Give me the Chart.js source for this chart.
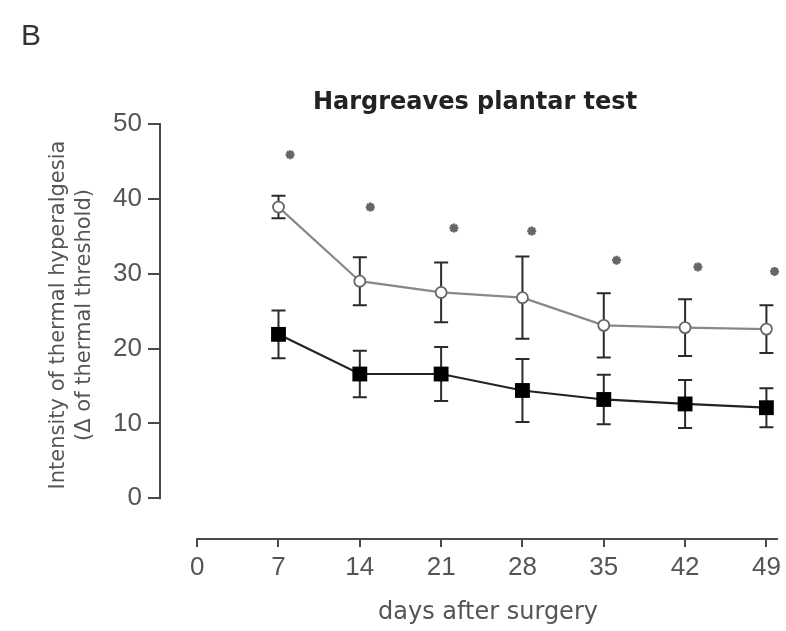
<!DOCTYPE html>
<html>
<head>
<meta charset="utf-8">
<script src="https://cdn.jsdelivr.net/npm/chart.js@4.4.1/dist/chart.umd.min.js"></script>
<style>
  html, body { margin: 0; padding: 0; background: #fff; }
  #wrap { width: 786px; height: 631px; }
</style>
</head>
<body>
<div id="wrap"><canvas id="chart" width="786" height="631"></canvas></div>
<script>
// values (mean ± SEM)
const days       = [7, 14, 21, 28, 35, 42, 49]
const xTicks     = [0, 7, 14, 21, 28, 35, 42, 49]
const yTicks     = [0, 10, 20, 30, 40, 50]
const openMean   = [38.9, 29.0, 27.5, 26.8, 23.1, 22.8, 22.6]
const openSem    = [1.5, 3.2, 4.0, 5.5, 4.3, 3.8, 3.2]
const filledMean = [21.9, 16.6, 16.6, 14.4, 13.2, 12.6, 12.1]
const filledSem  = [3.2, 3.1, 3.6, 4.2, 3.3, 3.2, 2.6]
const starDays   = [8.0, 14.9, 22.1, 28.8, 36.1, 43.1, 49.7]
const starLevel  = [45.9, 38.9, 36.1, 35.7, 31.8, 30.9, 30.3]

const panelLabel = 'B'
const chartTitle = 'Hargreaves plantar test'
const yTitle     = ['Intensity of thermal hyperalgesia', '(\u0394 of thermal threshold)']
const xTitle     = 'days after surgery'

const axisColor = '#4a4a4a'
const textColor = '#555'
const tickFont  = { family: '"Liberation Sans", Arial, sans-serif', size: 26 }

const toPoints = (xs, ys) => xs.map((x, i) => ({ x, y: ys[i] }))

// SEM whiskers, drawn under the markers
const errorBars = {
  id: 'errorBars',
  beforeDatasetsDraw(chart) {
    const { ctx, scales: { x, y } } = chart
    ctx.save()
    ctx.strokeStyle = '#2a2a2a'
    ctx.lineWidth = 2
    chart.data.datasets.forEach(ds => {
      if (!ds.sem) return
      ds.data.forEach((p, i) => {
        const px  = x.getPixelForValue(p.x)
        const top = y.getPixelForValue(p.y + ds.sem[i])
        const bot = y.getPixelForValue(p.y - ds.sem[i])
        ctx.beginPath()
        ctx.moveTo(px, top); ctx.lineTo(px, bot)
        ctx.moveTo(px - 7, top); ctx.lineTo(px + 7, top)
        ctx.moveTo(px - 7, bot); ctx.lineTo(px + 7, bot)
        ctx.stroke()
      })
    })
    ctx.restore()
  }
}

// detached axis lines + panel letter and titles
const decorations = {
  id: 'decorations',
  beforeDatasetsDraw(chart) {
    const { ctx, chartArea, scales: { x, y } } = chart
    ctx.save()
    ctx.strokeStyle = axisColor
    ctx.lineWidth = 2
    ctx.beginPath()
    ctx.moveTo(chartArea.left, y.getPixelForValue(yTicks[0]) + 1)
    ctx.lineTo(chartArea.left, y.getPixelForValue(yTicks[yTicks.length - 1]) - 1)
    ctx.moveTo(x.getPixelForValue(xTicks[0]) - 1, chartArea.bottom)
    ctx.lineTo(x.getPixelForValue(50), chartArea.bottom)
    ctx.stroke()

    ctx.fillStyle = '#333'
    ctx.textAlign = 'left'
    ctx.textBaseline = 'alphabetic'
    ctx.font = '30px "Liberation Sans", Arial, sans-serif'
    ctx.fillText(panelLabel, 21, 45)

    ctx.fillStyle = '#222'
    ctx.textAlign = 'center'
    ctx.font = 'bold 24px "DejaVu Sans", sans-serif'
    ctx.fillText(chartTitle, 475, 109)

    ctx.fillStyle = textColor
    ctx.font = '24px "DejaVu Sans", sans-serif'
    ctx.fillText(xTitle, 488, 619)

    ctx.translate(0, 315)
    ctx.rotate(-Math.PI / 2)
    ctx.textBaseline = 'middle'
    ctx.font = '21px "DejaVu Sans", sans-serif'
    ctx.fillText(yTitle[0], 0, 58.5)
    ctx.fillText(yTitle[1], 0, 85)
    ctx.restore()
  }
}

new Chart(document.getElementById('chart'), {
  type: 'line',
  data: {
    datasets: [
      {
        label: 'filled',
        data: toPoints(days, filledMean),
        sem: filledSem,
        borderColor: '#222',
        borderWidth: 2.2,
        pointStyle: 'rect',
        pointRadius: 10.5,
        pointBackgroundColor: '#000',
        pointBorderColor: '#000',
        pointBorderWidth: 0,
        clip: false
      },
      {
        label: 'open',
        data: toPoints(days, openMean),
        sem: openSem,
        borderColor: '#888',
        borderWidth: 2.2,
        pointStyle: 'circle',
        pointRadius: 5.5,
        pointBackgroundColor: '#fff',
        pointBorderColor: '#666',
        pointBorderWidth: 1.8,
        clip: false
      },
      {
        label: 'p<0.05',
        data: toPoints(starDays, starLevel),
        showLine: false,
        pointStyle: 'star',
        pointRadius: 4.5,
        pointBorderColor: '#666',
        pointBorderWidth: 2.6,
        clip: false
      }
    ]
  },
  options: {
    responsive: false,
    animation: false,
    events: [],
    layout: { padding: { top: 124, right: 4, left: 0, bottom: 0 } },
    plugins: { legend: { display: false }, tooltip: { enabled: false } },
    scales: {
      x: {
        type: 'linear',
        min: -3.2,
        max: 49.67,
        afterBuildTicks: s => { s.ticks = xTicks.map(v => ({ value: v })) },
        afterFit: s => { s.height = 92 },
        border: { display: false },
        grid: { drawOnChartArea: false, drawTicks: true, tickLength: 8, color: axisColor, lineWidth: 2 },
        ticks: { color: textColor, font: tickFont, padding: 5, maxRotation: 0 }
      },
      y: {
        min: -5.44,
        max: 50,
        afterBuildTicks: s => { s.ticks = yTicks.map(v => ({ value: v })) },
        afterFit: s => { s.width = 160 },
        border: { display: false },
        grid: { drawOnChartArea: false, drawTicks: true, tickLength: 12, color: axisColor, lineWidth: 2 },
        ticks: { color: textColor, font: tickFont, padding: 6 }
      }
    }
  },
  plugins: [errorBars, decorations]
})
</script>
</body>
</html>
